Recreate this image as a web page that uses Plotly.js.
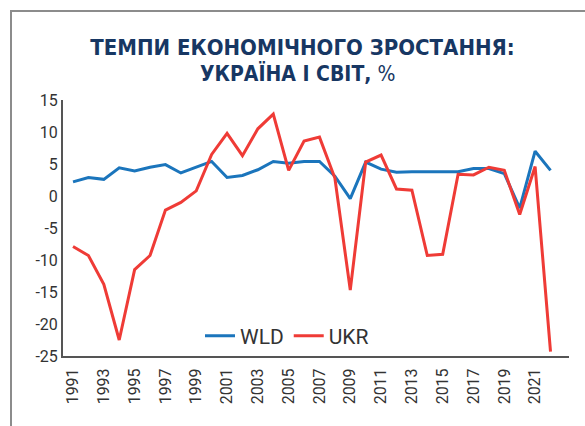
<!DOCTYPE html>
<html>
<head>
<meta charset="utf-8">
<script src="https://cdn.plot.ly/plotly-3.0.1.min.js"></script>
<style>
  html, body { margin: 0; padding: 0; width: 585px; height: 426px; overflow: hidden; background: #ffffff; }
  #frame { position: absolute; left: 10px; top: 10px; width: 700px; height: 600px; border: 2px solid #8c8c8c; box-sizing: border-box; }
  #chart { position: absolute; left: 0; top: 0; width: 585px; height: 426px; }
</style>
</head>
<body>
<div id="frame"></div>
<div id="chart"></div>
<script>
const years = [1991,1992,1993,1994,1995,1996,1997,1998,1999,2000,
               2001,2002,2003,2004,2005,2006,2007,2008,2009,2010,
               2011,2012,2013,2014,2015,2016,2017,2018,2019,2020,
               2021,2022];
const wld = [2.2,2.9,2.6,4.4,3.9,4.5,4.9,3.6,4.5,5.4,
             2.9,3.2,4.1,5.4,5.1,5.4,5.4,3.1,-0.4,5.3,
             4.2,3.7,3.8,3.8,3.9,3.8,4.3,4.3,3.5,-1.9,
             7.0,4.0];
const ukr = [-7.9,-9.3,-13.8,-22.5,-11.5,-9.3,-2.2,-1.0,0.8,6.5,
             9.8,6.3,10.5,12.8,4.0,8.6,9.2,2.8,-14.7,5.3,
             6.4,1.1,0.9,-9.3,-9.1,3.4,3.3,4.5,4.0,-2.9,
             4.6,-24.3];
const xTickVals = [1991,1993,1995,1997,1999,2001,2003,2005,2007,2009,2011,2013,2015,2017,2019,2021];
const xTickText = ['1991','1993','1995','1997','1999','2001','2003','2005','2007','2009','2011','2013','2015','2017','2019','2021'];
const yTickVals = [15,10,5,0,-5,-10,-15,-20,-25];
const yTickText = ['15','10','5','0','-5','-10','-15','-20','-25'];
const seriesNames = ['WLD','UKR'];
const titleLine1 = '<b>ТЕМПИ ЕКОНОМІЧНОГО ЗРОСТАННЯ:</b>';
const titleLine2 = '<b>УКРАЇНА І СВІТ,</b> %';

const titleFont = 'DejaVu Sans Condensed, Liberation Sans, sans-serif';
const tickFont = {family: 'Roboto, Liberation Sans, sans-serif', size: 16, color: '#333333'};

const traces = [
  {x: years, y: wld, name: seriesNames[0], type: 'scatter', mode: 'lines',
   line: {color: '#1b75bc', width: 3}},
  {x: years, y: ukr, name: seriesNames[1], type: 'scatter', mode: 'lines',
   line: {color: '#ef3b36', width: 3}}
];

const layout = {
  width: 585, height: 426,
  paper_bgcolor: 'rgba(0,0,0,0)',
  plot_bgcolor: 'rgba(0,0,0,0)',
  margin: {l: 63, r: 16, t: 100, b: 70, pad: 0},
  title: {
    text: titleLine1,
    font: {family: titleFont, size: 22, color: '#173763'},
    x: 302.5/585, xanchor: 'center', xref: 'container',
    y: 1 - 47/426, yanchor: 'middle', yref: 'container'
  },
  annotations: [{
    text: titleLine2, showarrow: false,
    xref: 'paper', yref: 'paper',
    x: (297-63)/506, y: 1 + (100-73)/256, xanchor: 'center', yanchor: 'middle',
    font: {family: titleFont, size: 21, color: '#173763'}
  }],
  showlegend: true,
  legend: {
    orientation: 'h',
    x: (200-63)/506, xanchor: 'left', xref: 'paper',
    y: (356-336)/256, yanchor: 'middle', yref: 'paper',
    font: {family: 'Roboto, Liberation Sans, sans-serif', size: 21, color: '#333333'},
    bgcolor: 'rgba(0,0,0,0)',
    traceorder: 'normal'
  },
  xaxis: {
    type: 'linear',
    range: [1990.35, 2023.2],
    tickmode: 'array', tickvals: xTickVals, ticktext: xTickText,
    tickangle: -90,
    showgrid: false, zeroline: false,
    showline: true, linecolor: '#555555', linewidth: 2,
    ticks: '', ticklen: 0,
    tickfont: tickFont,
    ticklabelstandoff: 4
  },
  yaxis: {
    range: [-25, 15],
    tickmode: 'array', tickvals: yTickVals, ticktext: yTickText,
    showgrid: false, zeroline: false,
    showline: true, linecolor: '#555555', linewidth: 2,
    ticks: '', ticklen: 0,
    tickfont: tickFont
  }
};

Plotly.newPlot('chart', traces, layout, {displayModeBar: false, staticPlot: true});
</script>
</body>
</html>
